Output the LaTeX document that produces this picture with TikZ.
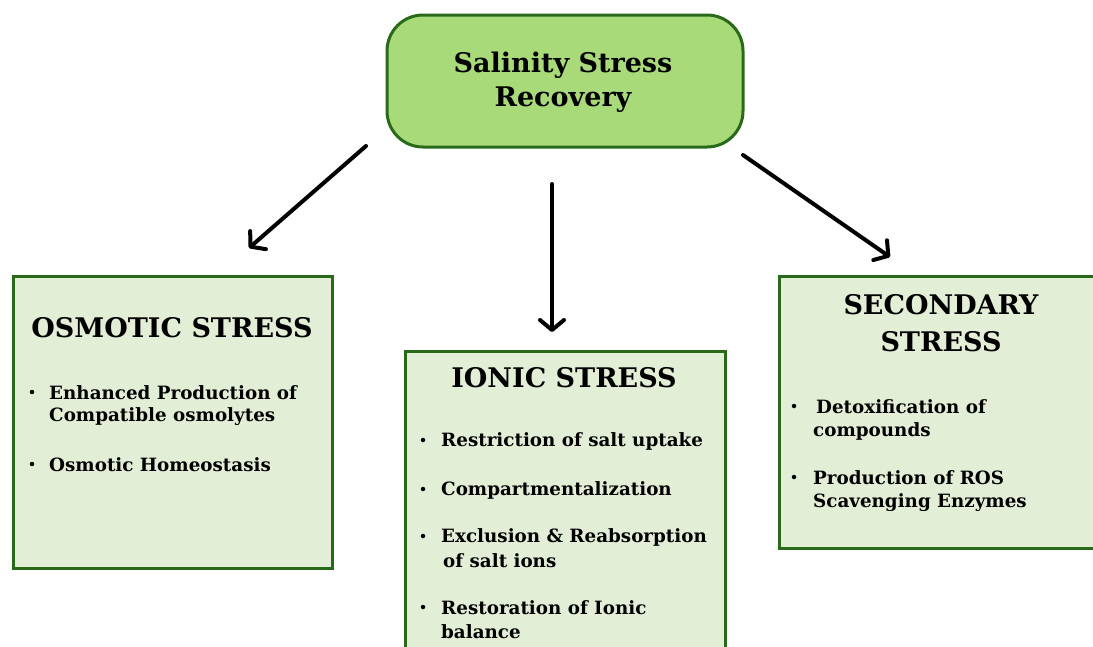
\documentclass[tikz,border=0pt]{standalone}
\usepackage{fontspec}
\setmainfont{DejaVu Serif}
\usetikzlibrary{arrows.meta}
\definecolor{topfill}{HTML}{A9DA7A}
\definecolor{boxfill}{HTML}{E2EFD6}
\definecolor{edge}{HTML}{286A19}
\tikzset{
  topbox/.style={draw=edge, line width=3pt, fill=topfill, rounded corners=36pt, inner sep=0pt},
  stressbox/.style={draw=edge, line width=3pt, fill=boxfill, inner sep=0pt},
  title/.style={font=\bfseries\fontsize{27}{30}\selectfont, inner sep=0pt},
  item/.style={font=\bfseries\fontsize{18.3}{21}\selectfont, inner sep=0pt, anchor=west},
  bul/.style={circle, fill=black, inner sep=0pt, minimum size=4.5pt},
  arr/.style={line width=4pt, line cap=round, -{Straight Barb[length=10pt,width=24pt,line cap=round,line join=round]}}
}
\begin{document}
\begin{tikzpicture}[x=1pt,y=-1pt]
\clip (0,0) rectangle (1093,646);
\fill[white] (0,0) rectangle (1093,646);

% top box
\node[topbox, minimum width=356pt, minimum height=132pt] (top) at (565,81) {};
\node[title] (t1) at (563,65) {Salinity Stress};
\node[title] (t2) at (563,100) {Recovery};

% osmotic box
\node[stressbox, minimum width=319pt, minimum height=292pt] (osm) at (172.5,422) {};
\node[title] (o0) at (172,328) {OSMOTIC STRESS};
\node[bul] (ob1) at (32,392) {};
\node[item] (o1) at (49,393) {Enhanced Production of};
\node[item] (o2) at (49,417) {Compatible osmolytes};
\node[bul] (ob2) at (32,464) {};
\node[item] (o3) at (49,465) {Osmotic Homeostasis};

% ionic box
\node[stressbox, minimum width=320pt, minimum height=320pt] (ion) at (565,511) {};
\node[title] (i0) at (564,378) {IONIC STRESS};
\node[bul] (ib1) at (423,440) {};
\node[item] (i1) at (441,441) {Restriction of salt uptake};
\node[bul] (ib2) at (423,489) {};
\node[item] (i2) at (441,490) {Compartmentalization};
\node[bul] (ib3) at (423,536) {};
\node[item] (i3) at (441,537) {Exclusion \& Reabsorption};
\node[item] (i4) at (443,561) {of salt ions};
\node[bul] (ib4) at (423,607) {};
\node[item] (i5) at (441,608) {Restoration of Ionic};
\node[item] (i6) at (441,632) {balance};

% secondary box
\node[stressbox, minimum width=330pt, minimum height=272pt] (sec) at (944,412) {};
\node[title] (s0) at (941,305) {SECONDARY};
\node[title] (s1) at (941,342) {STRESS};
\node[bul] (sb1) at (794,406) {};
\node[item] (s2) at (816,407) {Detoxification of};
\node[item] (s3) at (813,431) {compounds};
\node[bul] (sb2) at (794,477) {};
\node[item] (s4) at (813,478) {Production of ROS};
\node[item] (s5) at (813,503) {Scavenging Enzymes};

% arrows
\coordinate (aLs) at (366,146);
\coordinate (aLe) at (249,248);
\coordinate (aMs) at (552,184);
\coordinate (aMe) at (552,332);
\coordinate (aRs) at (743,155);
\coordinate (aRe) at (890,257);
\draw[arr] (aLs) -- (aLe);
\draw[arr] (aMs) -- (aMe);
\draw[arr] (aRs) -- (aRe);
\end{tikzpicture}
\end{document}
